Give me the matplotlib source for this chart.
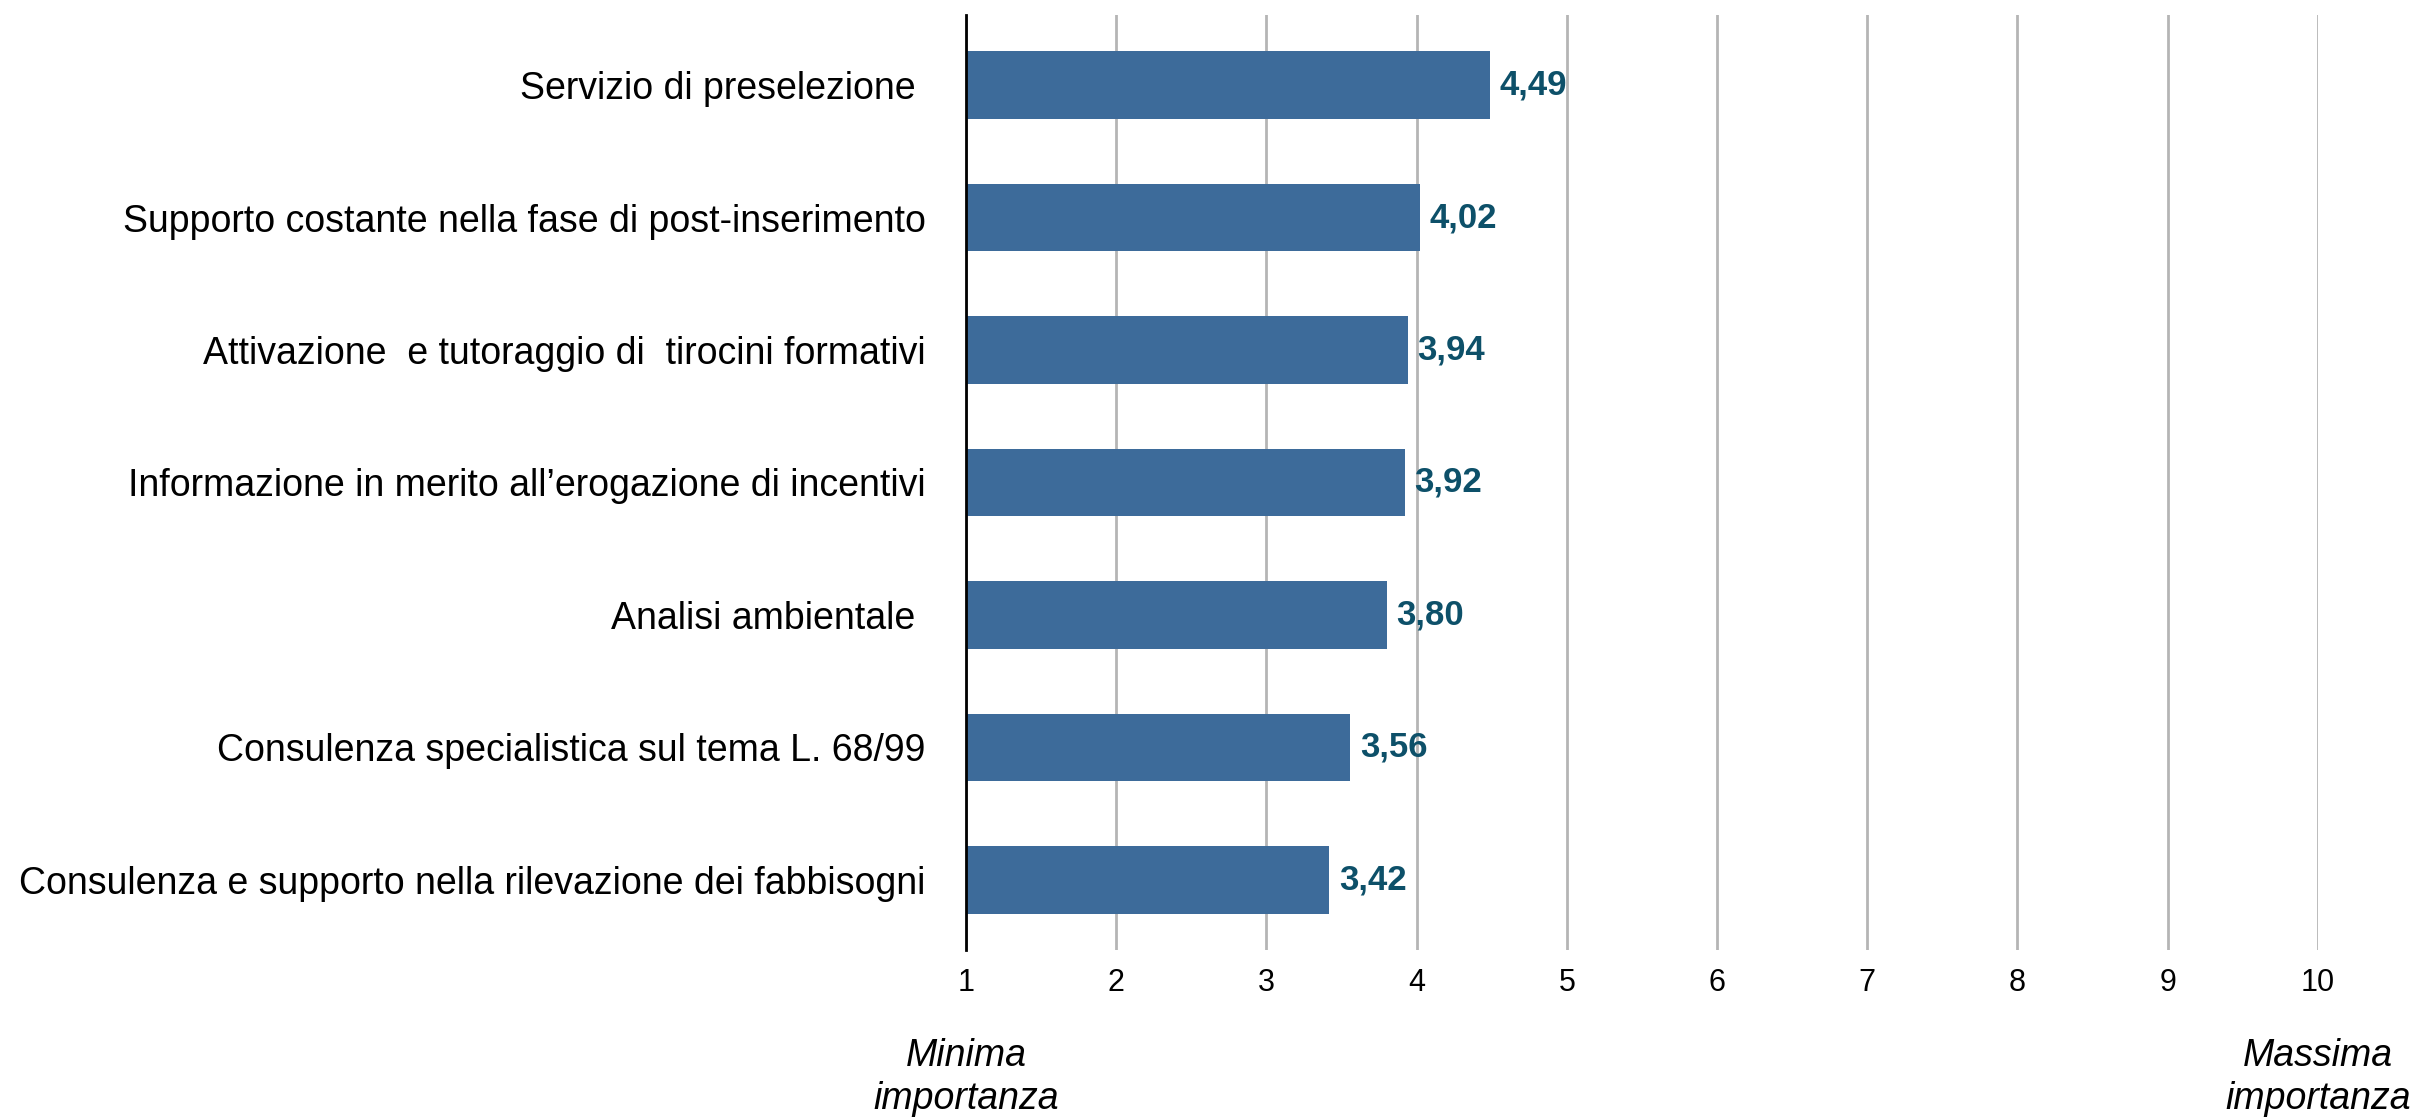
import matplotlib
matplotlib.use("Agg")
import matplotlib.pyplot as plt
import matplotlib.transforms as mtransforms

plt.rcParams['font.family'] = ['Liberation Sans', 'DejaVu Sans']

categories = [
    "Servizio di preselezione ",
    "Supporto costante nella fase di post-inserimento",
    "Attivazione  e tutoraggio di  tirocini formativi",
    "Informazione in merito all\u2019erogazione di incentivi",
    "Analisi ambientale ",
    "Consulenza specialistica sul tema L. 68/99",
    "Consulenza e supporto nella rilevazione dei fabbisogni",
]
values = [4.49, 4.02, 3.94, 3.92, 3.80, 3.56, 3.42]
x_ticks = [1, 2, 3, 4, 5, 6, 7, 8, 9, 10]

bar_color = '#3d6b9a'
label_color = '#0d5069'

fig = plt.figure(figsize=(24.13, 11.17), dpi=100)
ax = fig.add_axes([0.4003, 0.1495, 0.5603, 0.8371])

y_pos = list(range(len(categories)))
# bars start at 1 (minimum of the scale)
ax.barh(y_pos, [v - 1 for v in values], left=1, height=0.51, color=bar_color, zorder=3)

for y, v in zip(y_pos, values):
    ax.annotate(f"{v:.2f}".replace('.', ','), xy=(v, y), xytext=(7, 0),
                textcoords='offset points', ha='left', va='center',
                fontsize=25, fontweight='bold', color=label_color)

ax.set_xlim(1, 10)
ax.set_ylim(len(categories) - 0.47, -0.53)
ax.set_xticks(x_ticks)
ax.set_xticklabels([str(t) for t in x_ticks], fontsize=22)
ax.set_yticks(y_pos)
ax.set_yticklabels(categories, fontsize=27)
ax.tick_params(axis='both', length=0)
ax.tick_params(axis='x', pad=13)
ax.tick_params(axis='y', pad=29)

ax.grid(axis='x', color='#b5b5b5', linewidth=2, zorder=0)
for side in ['top', 'right', 'bottom']:
    ax.spines[side].set_visible(False)
ax.spines['left'].set_linewidth(2)
ax.spines['left'].set_color('black')
ax.spines['left'].set_zorder(4)

trans = mtransforms.blended_transform_factory(ax.transData, fig.transFigure)
ax.text(1, 0.035, "Minima\nimportanza", transform=trans, ha='center', va='center',
        fontsize=27, style='italic', linespacing=1.25)
ax.text(10, 0.035, "Massima\nimportanza", transform=trans, ha='center', va='center',
        fontsize=27, style='italic', linespacing=1.25)

fig.savefig('out.png', dpi=100)
